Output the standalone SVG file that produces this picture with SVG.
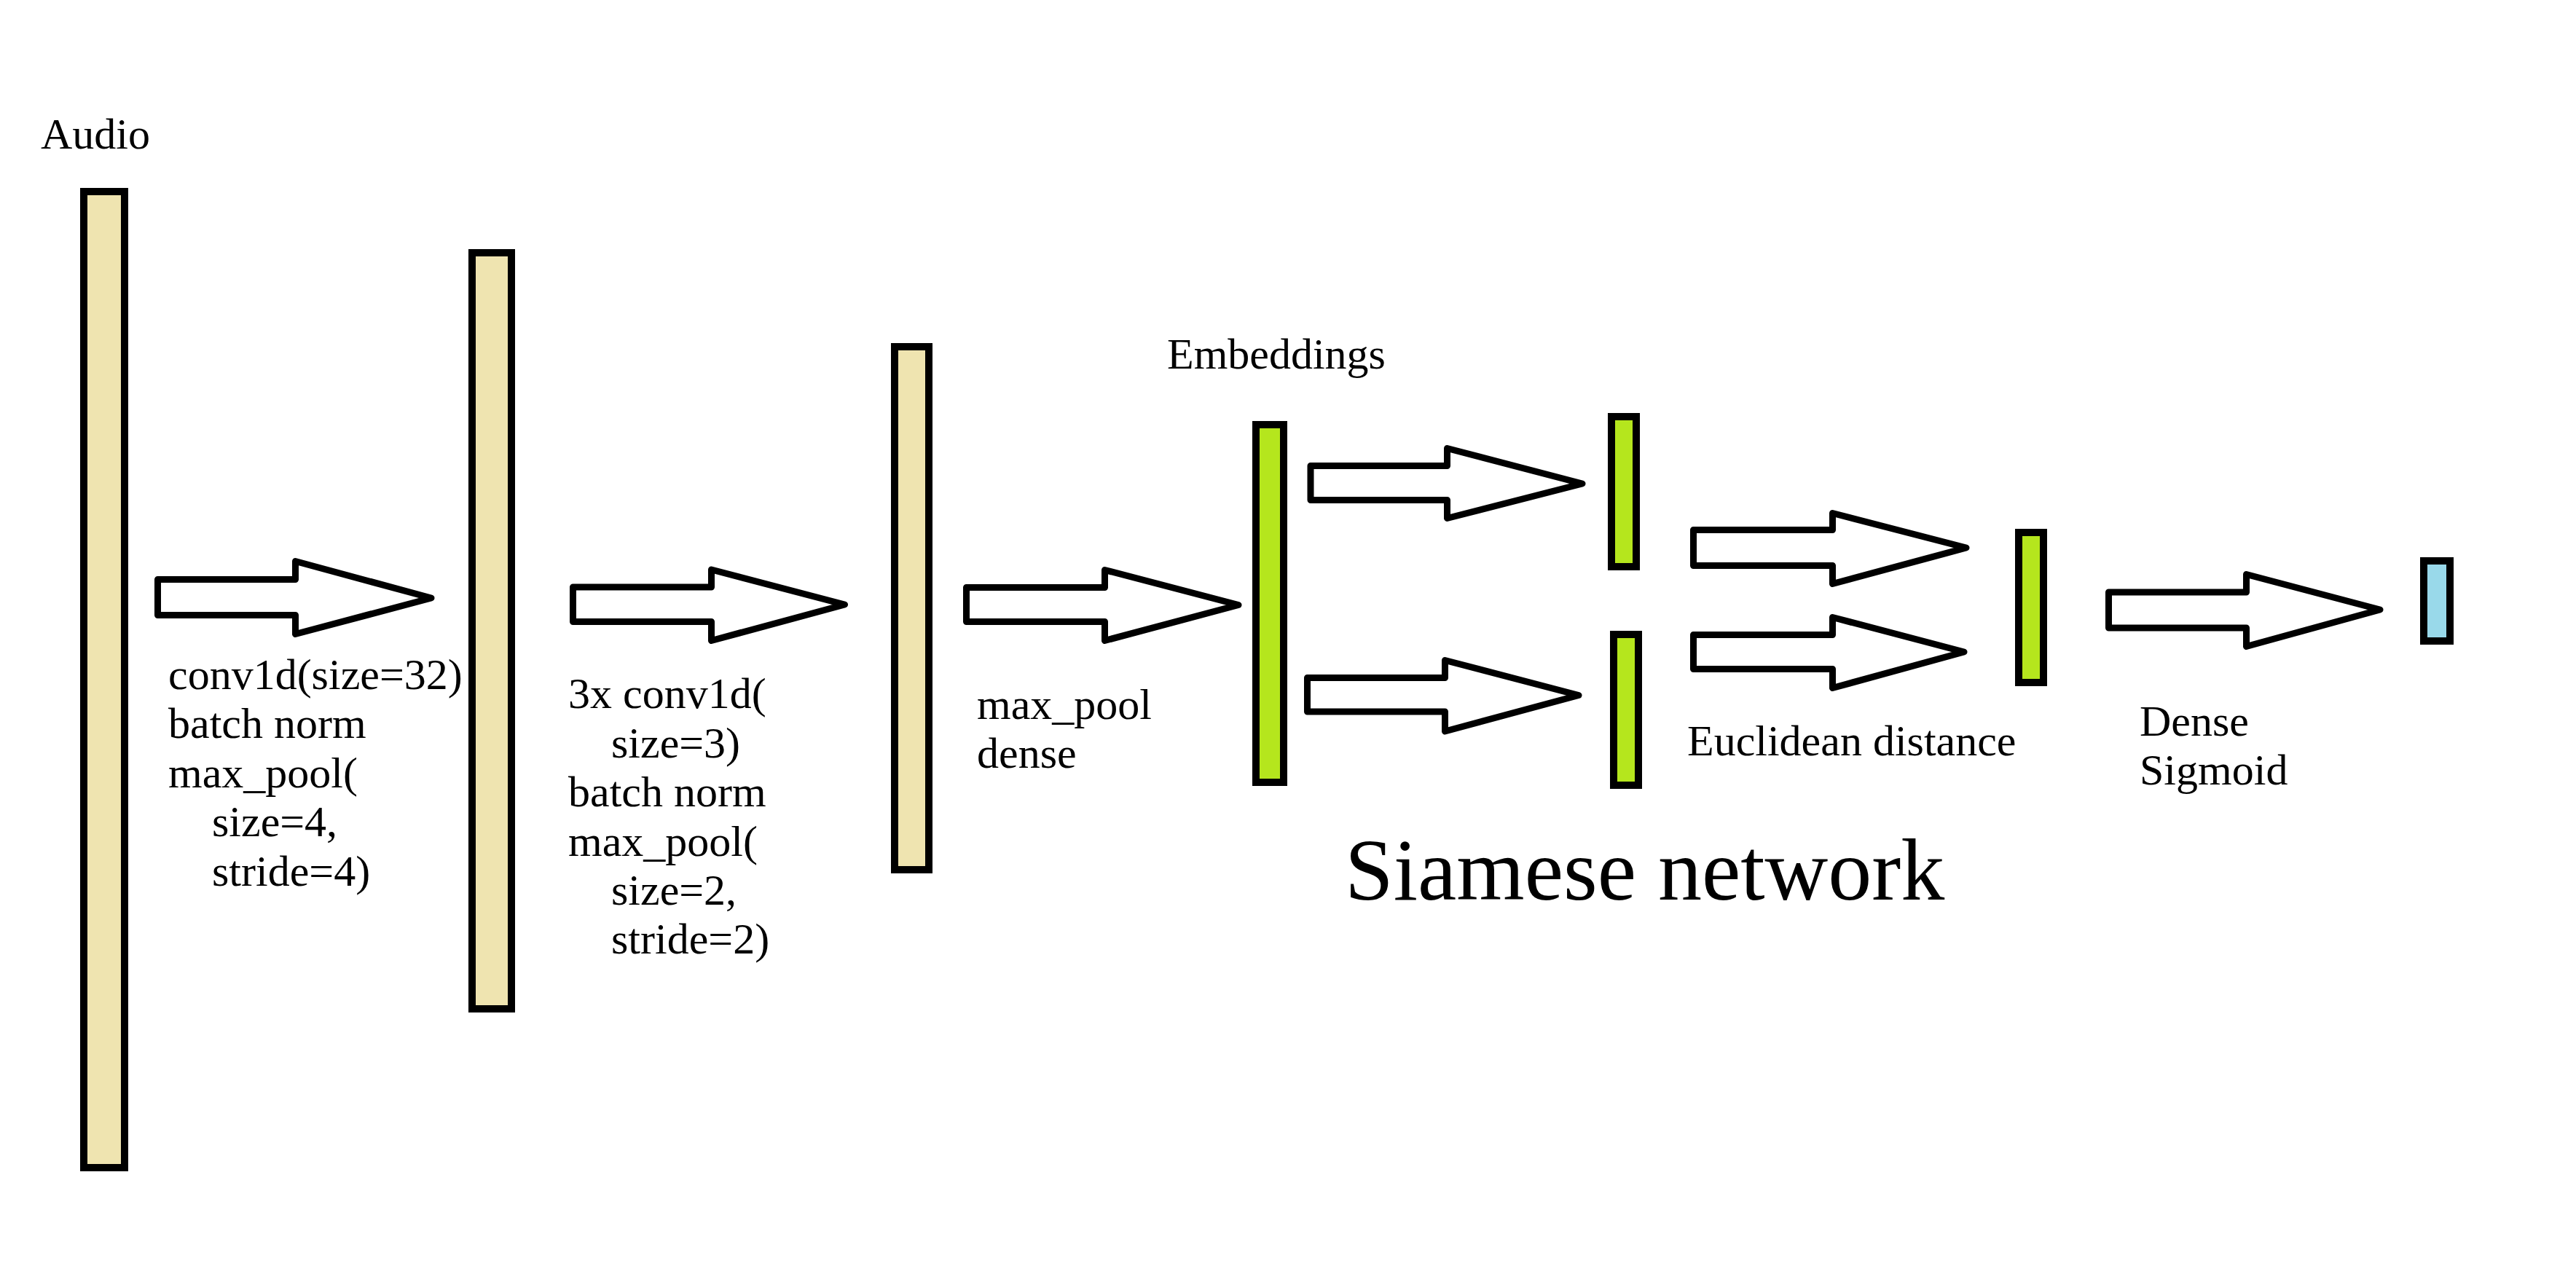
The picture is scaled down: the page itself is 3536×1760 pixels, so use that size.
<svg xmlns="http://www.w3.org/2000/svg" width="3536" height="1760" viewBox="0 0 3536 1760">
<style>
.bar{stroke:#000;stroke-width:10;stroke-linejoin:miter}
.tan{fill:#EFE4B0}
.lime{fill:#B5E61D}
.blue{fill:#99D9EA}
.arrow{fill:#fff;stroke:#000;stroke-width:9;stroke-linejoin:round}
.t{font-family:"Liberation Serif","Times New Roman",serif;font-size:60px;fill:#000}
.big{font-family:"Liberation Serif","Times New Roman",serif;font-size:120px;fill:#000}
</style>
<rect width="3536" height="1760" fill="#fff"/>
<g id="audio">
<rect class="bar tan" x="115" y="263" width="56" height="1340"/>
<text class="t" x="56" y="204">Audio</text>
</g>
<g id="conv1">
<rect class="bar tan" x="648" y="347" width="54" height="1038"/>
</g>
<g id="conv2">
<rect class="bar tan" x="1228" y="476" width="47" height="718"/>
</g>
<g id="embeddings">
<rect class="bar lime" x="1724" y="583" width="38" height="491"/>
<text class="t" x="1602" y="506">Embeddings</text>
</g>
<g id="embed-a">
<rect class="bar lime" x="2212" y="572" width="34" height="206"/>
</g>
<g id="embed-b">
<rect class="bar lime" x="2215" y="871" width="34" height="207"/>
</g>
<g id="distance">
<rect class="bar lime" x="2771" y="731" width="34" height="206"/>
</g>
<g id="output">
<rect class="bar blue" x="3327" y="770" width="36" height="110"/>
</g>
<g id="connectors">
<path class="arrow" d="M216.5,795.5 H405.5 V770.5 L592,821 L405.5,870.5 V844.5 H216.5 Z"/>
<path class="arrow" d="M786.5,806 H976.5 V782 L1159.5,830 L976.5,879.5 V853.5 H786.5 Z"/>
<path class="arrow" d="M1326.5,806.5 H1516.5 V782.5 L1700,830.5 L1516.5,879.5 V853.5 H1326.5 Z"/>
<path class="arrow" d="M1799,639.5 H1986.5 V615.5 L2172,664 L1986.5,711.5 V686.5 H1799 Z"/>
<path class="arrow" d="M1794.5,930.5 H1983.5 V906.5 L2167,954.5 L1983.5,1004 V977 H1794.5 Z"/>
<path class="arrow" d="M2324.5,727.5 H2515.5 V704.5 L2699,752 L2515.5,801.5 V776.5 H2324.5 Z"/>
<path class="arrow" d="M2324.5,871.5 H2515.5 V847.5 L2696,895 L2515.5,944.5 V918.5 H2324.5 Z"/>
<path class="arrow" d="M2894.5,813 H3083.5 V788.5 L3267,837 L3083.5,887.5 V862 H2894.5 Z"/>
</g>
<g id="labels">
<text class="t" x="231" y="946">conv1d(size=32)</text>
<text class="t" x="231" y="1013">batch norm</text>
<text class="t" x="231" y="1081">max_pool(</text>
<text class="t" x="291" y="1148">size=4,</text>
<text class="t" x="291" y="1216">stride=4)</text>
<text class="t" x="780" y="972">3x conv1d(</text>
<text class="t" x="839" y="1040">size=3)</text>
<text class="t" x="780" y="1107">batch norm</text>
<text class="t" x="780" y="1175">max_pool(</text>
<text class="t" x="839" y="1242">size=2,</text>
<text class="t" x="839" y="1309">stride=2)</text>
<text class="t" x="1341" y="987">max_pool</text>
<text class="t" x="1341" y="1054">dense</text>
<text class="t" x="2316" y="1037">Euclidean distance</text>
<text class="t" x="2937" y="1010">Dense</text>
<text class="t" x="2937" y="1077">Sigmoid</text>
<text class="big" x="1846" y="1235">Siamese network</text>
</g>
</svg>
